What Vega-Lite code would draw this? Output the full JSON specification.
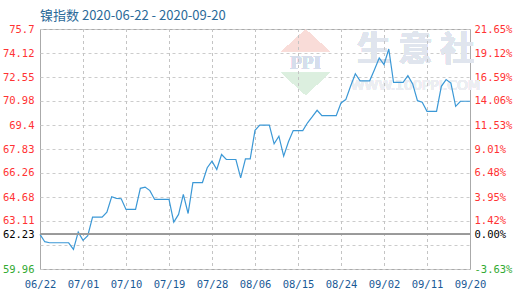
{
  "$schema": "https://vega.github.io/schema/vega-lite/v6.json",
  "width": 430,
  "height": 240,
  "autosize": "none",
  "padding": {"left": 40, "top": 29, "right": 50, "bottom": 31},
  "background": "white",
  "title": {"text": "镍指数 2020-06-22 - 2020-09-20", "anchor": "start", "frame": "group", "font": "Noto Sans CJK SC", "fontSize": 13, "fontWeight": "normal", "color": "#2b6a99", "offset": 1},
  "config": {"view": {"stroke": "#aaaaaa", "strokeWidth": 1}},
  "datasets": {
    "ticks": [
      {"date": "2020-07-01"}, {"date": "2020-07-10"}, {"date": "2020-07-19"}, {"date": "2020-07-28"},
      {"date": "2020-08-06"}, {"date": "2020-08-15"}, {"date": "2020-08-24"}, {"date": "2020-09-02"}, {"date": "2020-09-11"}
    ],
    "nickel": [
    {"date": "2020-06-22", "value": 62.23},
    {"date": "2020-06-23", "value": 61.75},
    {"date": "2020-06-24", "value": 61.68},
    {"date": "2020-06-25", "value": 61.68},
    {"date": "2020-06-26", "value": 61.68},
    {"date": "2020-06-27", "value": 61.68},
    {"date": "2020-06-28", "value": 61.68},
    {"date": "2020-06-29", "value": 61.25},
    {"date": "2020-06-30", "value": 62.38},
    {"date": "2020-07-01", "value": 61.84},
    {"date": "2020-07-02", "value": 62.15},
    {"date": "2020-07-03", "value": 63.36},
    {"date": "2020-07-04", "value": 63.36},
    {"date": "2020-07-05", "value": 63.36},
    {"date": "2020-07-06", "value": 63.68},
    {"date": "2020-07-07", "value": 64.7},
    {"date": "2020-07-08", "value": 64.59},
    {"date": "2020-07-09", "value": 64.57},
    {"date": "2020-07-10", "value": 63.87},
    {"date": "2020-07-11", "value": 63.87},
    {"date": "2020-07-12", "value": 63.87},
    {"date": "2020-07-13", "value": 65.25},
    {"date": "2020-07-14", "value": 65.33},
    {"date": "2020-07-15", "value": 65.1},
    {"date": "2020-07-16", "value": 64.52},
    {"date": "2020-07-17", "value": 64.52},
    {"date": "2020-07-18", "value": 64.52},
    {"date": "2020-07-19", "value": 64.52},
    {"date": "2020-07-20", "value": 63.03},
    {"date": "2020-07-21", "value": 63.54},
    {"date": "2020-07-22", "value": 64.85},
    {"date": "2020-07-23", "value": 63.6},
    {"date": "2020-07-24", "value": 65.63},
    {"date": "2020-07-25", "value": 65.63},
    {"date": "2020-07-26", "value": 65.63},
    {"date": "2020-07-27", "value": 66.6},
    {"date": "2020-07-28", "value": 67.03},
    {"date": "2020-07-29", "value": 66.49},
    {"date": "2020-07-30", "value": 67.47},
    {"date": "2020-07-31", "value": 67.14},
    {"date": "2020-08-01", "value": 67.14},
    {"date": "2020-08-02", "value": 67.14},
    {"date": "2020-08-03", "value": 65.94},
    {"date": "2020-08-04", "value": 67.18},
    {"date": "2020-08-05", "value": 67.18},
    {"date": "2020-08-06", "value": 69.05},
    {"date": "2020-08-07", "value": 69.39},
    {"date": "2020-08-08", "value": 69.39},
    {"date": "2020-08-09", "value": 69.39},
    {"date": "2020-08-10", "value": 68.17},
    {"date": "2020-08-11", "value": 68.67},
    {"date": "2020-08-12", "value": 67.36},
    {"date": "2020-08-13", "value": 68.3},
    {"date": "2020-08-14", "value": 69.04},
    {"date": "2020-08-15", "value": 69.04},
    {"date": "2020-08-16", "value": 69.04},
    {"date": "2020-08-17", "value": 69.55},
    {"date": "2020-08-18", "value": 69.95},
    {"date": "2020-08-19", "value": 70.37},
    {"date": "2020-08-20", "value": 70.02},
    {"date": "2020-08-21", "value": 70.02},
    {"date": "2020-08-22", "value": 70.02},
    {"date": "2020-08-23", "value": 70.02},
    {"date": "2020-08-24", "value": 70.85},
    {"date": "2020-08-25", "value": 71.07},
    {"date": "2020-08-26", "value": 71.95},
    {"date": "2020-08-27", "value": 72.77},
    {"date": "2020-08-28", "value": 72.3},
    {"date": "2020-08-29", "value": 72.3},
    {"date": "2020-08-30", "value": 72.3},
    {"date": "2020-08-31", "value": 73.03},
    {"date": "2020-09-01", "value": 73.8},
    {"date": "2020-09-02", "value": 73.36},
    {"date": "2020-09-03", "value": 74.39},
    {"date": "2020-09-04", "value": 72.2},
    {"date": "2020-09-05", "value": 72.2},
    {"date": "2020-09-06", "value": 72.2},
    {"date": "2020-09-07", "value": 72.64},
    {"date": "2020-09-08", "value": 72.1},
    {"date": "2020-09-09", "value": 71.0},
    {"date": "2020-09-10", "value": 70.9},
    {"date": "2020-09-11", "value": 70.3},
    {"date": "2020-09-12", "value": 70.3},
    {"date": "2020-09-13", "value": 70.3},
    {"date": "2020-09-14", "value": 71.94},
    {"date": "2020-09-15", "value": 72.38},
    {"date": "2020-09-16", "value": 72.15},
    {"date": "2020-09-17", "value": 70.63},
    {"date": "2020-09-18", "value": 70.96},
    {"date": "2020-09-19", "value": 70.96},
    {"date": "2020-09-20", "value": 70.96}
  ]},
  "data": {"name": "nickel"},
  "layer": [
    {
      "mark": {"type": "point", "shape": "M0,-0.46L1,0.46L-1,0.46Z", "filled": true, "color": "#f9dcd8", "opacity": 1, "size": 2304},
      "encoding": {
        "x": {
          "datum": {"year": 2020, "month": 8, "date": 16, "hours": 14, "utc": true}, "type": "temporal",
          "scale": {"type": "utc", "domain": [{"year": 2020, "month": 6, "date": 22, "utc": true}, {"year": 2020, "month": 9, "date": 20, "utc": true}], "nice": false},
          "axis": {
            "title": null,
            "labelExpr": "utcFormat(datum.value, '%m/%d')",
            "values": [
              {"year": 2020, "month": 6, "date": 22, "utc": true},
              {"year": 2020, "month": 7, "date": 1, "utc": true},
              {"year": 2020, "month": 7, "date": 10, "utc": true},
              {"year": 2020, "month": 7, "date": 19, "utc": true},
              {"year": 2020, "month": 7, "date": 28, "utc": true},
              {"year": 2020, "month": 8, "date": 6, "utc": true},
              {"year": 2020, "month": 8, "date": 15, "utc": true},
              {"year": 2020, "month": 8, "date": 24, "utc": true},
              {"year": 2020, "month": 9, "date": 2, "utc": true},
              {"year": 2020, "month": 9, "date": 11, "utc": true},
              {"year": 2020, "month": 9, "date": 20, "utc": true}
            ],
            "grid": false,
            "domain": false, "ticks": false,
            "labelFlush": false, "labelOverlap": false,
            "labelFont": "DejaVu Sans Mono", "labelFontSize": 10.5, "labelColor": "#1a5a96",
            "labelPadding": 10
          }
        },
        "y": {
          "datum": 74.93, "type": "quantitative",
          "scale": {"domain": [59.96, 75.7], "nice": false, "zero": false},
          "axis": {
            "title": null, "orient": "left",
            "values": [75.7, 74.12, 72.55, 70.98, 69.4, 67.83, 66.26, 64.68, 63.11, 62.23, 61.53, 59.96],
            "labelExpr": "datum.value == 61.53 ? '' : '' + datum.value",
            "grid": true, "gridDash": [3, 3], "gridColor": "#cccccc",
            "domain": false, "ticks": false,
            "labelFlush": false, "labelOverlap": false,
            "labelFont": "DejaVu Sans Mono", "labelFontSize": 10.5,
            "labelColor": {"condition": [{"test": "datum.value == 62.23", "value": "#000000"}, {"test": "datum.value == 59.96", "value": "#33aa33"}], "value": "#ff3333"},
            "labelPadding": 6
          }
        }
      }
    },
    {
      "mark": {"type": "point", "shape": "M-1,-0.46L1,-0.46L0,0.46Z", "filled": true, "color": "#dcefdf", "opacity": 1, "size": 2304},
      "encoding": {
        "x": {"datum": {"year": 2020, "month": 8, "date": 16, "hours": 14, "utc": true}, "type": "temporal", "axis": null},
        "y": {"datum": 72.12, "type": "quantitative", "axis": null}
      }
    },
    {
      "mark": {"type": "text", "text": "PPI", "font": "Liberation Serif", "fontWeight": "bold", "fontSize": 19, "color": "#d6deec", "baseline": "middle", "align": "center"},
      "encoding": {
        "x": {"datum": {"year": 2020, "month": 8, "date": 16, "hours": 14, "utc": true}, "type": "temporal", "axis": null},
        "y": {"datum": 73.49, "type": "quantitative", "axis": null}
      }
    },
    {
      "mark": {"type": "text", "text": "生 意 社", "font": "Noto Sans CJK SC", "fontWeight": "bold", "fontSize": 34, "color": "#e0e5ee", "baseline": "middle", "align": "center"},
      "encoding": {
        "x": {"datum": {"year": 2020, "month": 9, "date": 8, "hours": 14, "utc": true}, "type": "temporal", "axis": null},
        "y": {"datum": 74.28, "type": "quantitative", "axis": null}
      }
    },
    {
      "mark": {"type": "text", "text": "WWW.100PPI.COM", "font": "DejaVu Sans", "fontSize": 14, "color": "#eceef2", "baseline": "middle", "align": "center"},
      "encoding": {
        "x": {"datum": {"year": 2020, "month": 9, "date": 8, "hours": 14, "utc": true}, "type": "temporal", "axis": null},
        "y": {"datum": 71.98, "type": "quantitative", "axis": null}
      }
    },
    {
      "data": {"name": "ticks"},
      "mark": {"type": "rule", "color": "#c4c4c4", "strokeWidth": 1, "strokeDash": [3, 3], "xOffset": 0.5},
      "encoding": {
        "x": {"field": "date", "type": "temporal", "axis": null}
      }
    },
    {
      "mark": {"type": "line", "color": "#3b98d6", "strokeWidth": 1.2, "interpolate": "linear"},
      "encoding": {
        "x": {"field": "date", "type": "temporal", "axis": null},
        "y": {"field": "value", "type": "quantitative", "axis": null}
      }
    },
    {
      "mark": {"type": "rule", "color": "#999999", "strokeWidth": 1},
      "encoding": {
        "y": {
          "datum": 62.23, "type": "quantitative",
          "axis": {
            "title": null, "orient": "right",
            "values": [75.7, 74.12, 72.55, 70.98, 69.4, 67.83, 66.26, 64.68, 63.11, 62.23, 61.53, 59.96],
            "labelExpr": "['21.65%','19.12%','16.59%','14.06%','11.53%','9.01%','6.48%','3.95%','1.42%','0.00%','','-3.63%'][indexof([75.7, 74.12, 72.55, 70.98, 69.4, 67.83, 66.26, 64.68, 63.11, 62.23, 61.53, 59.96], datum.value)]",
            "grid": false, "domain": false, "ticks": false,
            "labelFlush": false, "labelOverlap": false,
            "labelFont": "DejaVu Sans Mono", "labelFontSize": 10.5,
            "labelColor": {"condition": [{"test": "datum.value == 62.23", "value": "#000000"}, {"test": "datum.value == 59.96", "value": "#33aa33"}], "value": "#ff3333"},
            "labelPadding": 4
          }
        }
      }
    }
  ],
  "resolve": {"axis": {"x": "independent", "y": "independent"}}
}
